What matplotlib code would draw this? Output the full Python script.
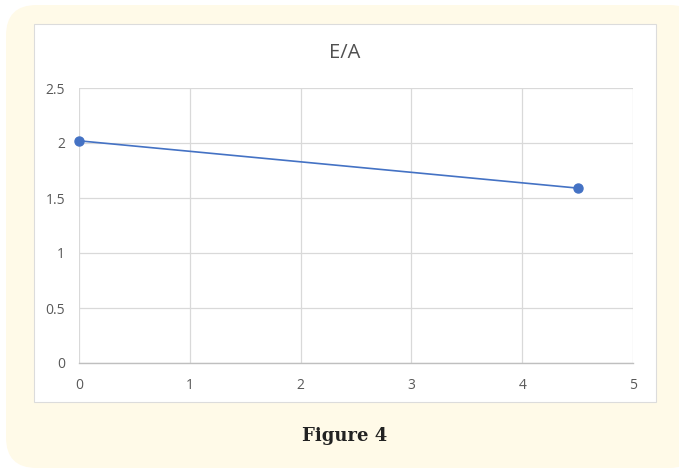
import numpy as np
import matplotlib
matplotlib.use("Agg")
import matplotlib.pyplot as plt
from matplotlib.patches import FancyBboxPatch, Rectangle

# data
x_vals = [0, 4.5]
y_vals = [2.02, 1.59]
x_ticks = [0, 1, 2, 3, 4, 5]
y_ticks = [0, 0.5, 1, 1.5, 2, 2.5]
y_labels = ['0', '0.5', '1', '1.5', '2', '2.5']
title = 'E/A'
caption = 'Figure 4'

W, H = 679, 471
fig = plt.figure(figsize=(W/100, H/100), dpi=100)
fig.patch.set_facecolor('white')

# cream rounded panel and white chart box (pixel coords -> figure fraction)
def fx(px): return px/W
def fy(py): return 1 - py/H
panel = FancyBboxPatch((fx(6), fy(468)), fx(700) - fx(6), fy(5) - fy(468),
                       boxstyle="round,pad=0,rounding_size=0.045",
                       transform=fig.transFigure, facecolor='#fffae8', edgecolor='none',
                       mutation_aspect=W/H, zorder=0)
fig.patches.append(panel)
box = Rectangle((fx(34), fy(402)), fx(656) - fx(34), fy(24) - fy(402),
                transform=fig.transFigure, facecolor='white', edgecolor='#dcdcdc',
                linewidth=0.8, zorder=1)
fig.patches.append(box)

ax = fig.add_axes([fx(79), fy(363), fx(633) - fx(79), fy(88) - fy(363)])
ax.set_zorder(2)
ax.set_facecolor('white')
ax.plot(x_vals, y_vals, color='#4472c4', linewidth=1.2, marker='o',
        markersize=6.5, clip_on=False, zorder=3)
ax.set_xlim(0, 5)
ax.set_ylim(0, 2.5)
ax.set_xticks(x_ticks)
ax.set_yticks(y_ticks)
ax.set_yticklabels(y_labels)
ax.grid(True, color='#d9d9d9', linewidth=0.9)
ax.set_axisbelow(True)
for s in ['top', 'right', 'left']:
    ax.spines[s].set_visible(False)
ax.spines['bottom'].set_color('#bfbfbf')
ax.spines['bottom'].set_linewidth(1.0)
ax.tick_params(axis='both', length=0, colors='#595959', labelsize=10)
ax.tick_params(axis='y', pad=10)
ax.tick_params(axis='x', pad=11)
for lab in ax.get_xticklabels() + ax.get_yticklabels():
    lab.set_fontfamily('Open Sans')

fig.text(fx(345), fy(53), title, ha='center', va='center', fontsize=14.5,
         color='#505050', family='Open Sans', zorder=3)
fig.text(fx(345), fy(436), caption, ha='center', va='center', fontsize=13,
         fontweight='bold', color='#222222', family='DejaVu Serif', zorder=3)

fig.savefig('out.png', dpi=100, facecolor=fig.get_facecolor())
